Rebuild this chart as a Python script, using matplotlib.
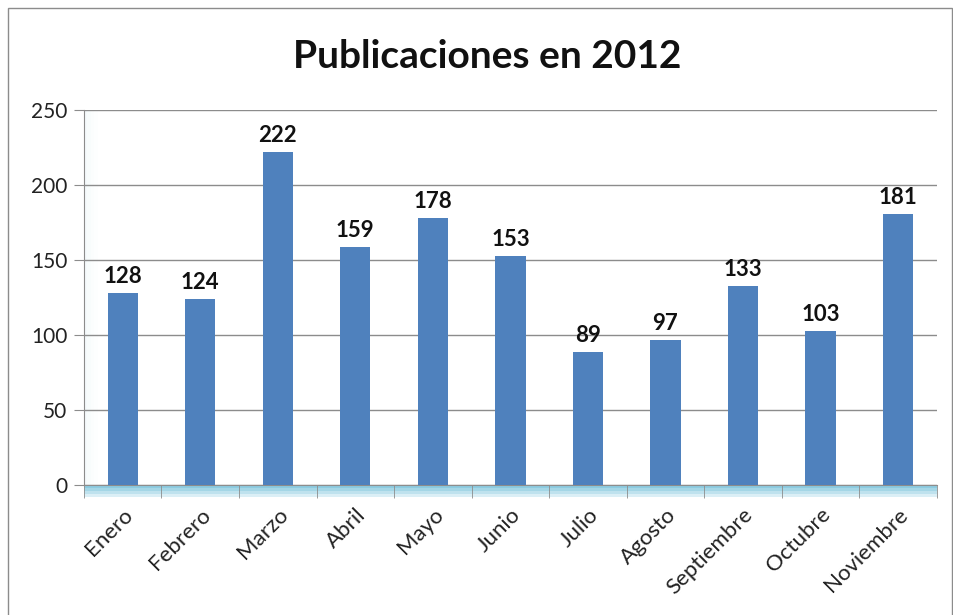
import numpy as np
import matplotlib.pyplot as plt
from matplotlib.patches import Rectangle
import matplotlib.transforms as mtransforms

plt.rcParams['font.family'] = ['Lato', 'DejaVu Sans']

meses = ['Enero', 'Febrero', 'Marzo', 'Abril', 'Mayo', 'Junio',
         'Julio', 'Agosto', 'Septiembre', 'Octubre', 'Noviembre']
publicaciones = [128, 124, 222, 159, 178, 153, 89, 97, 133, 103, 181]
y_ticks = [0, 50, 100, 150, 200, 250]

fig = plt.figure(figsize=(9.54, 6.15), dpi=100)
ax = fig.add_axes([0.088, 0.2114, 0.894, 0.6097])

x = np.arange(len(meses))
ax.bar(x, publicaciones, width=0.39, color='#4f81bd', zorder=3)

for xi, v in zip(x, publicaciones):
    ax.annotate(str(v), (xi, v), xytext=(0, 4), textcoords='offset points',
                ha='center', va='bottom', fontsize=16, fontweight='bold',
                color='#111111')

ax.set_xlim(-0.5, len(meses) - 0.5)
ax.set_ylim(0, 250)
ax.set_yticks(y_ticks)
ax.set_yticklabels([str(t) for t in y_ticks], fontsize=15, color='#222222')
ax.yaxis.grid(True, color='#8c8c8c', linewidth=1.0, zorder=0)
ax.tick_params(axis='y', length=7, color='#8c8c8c', pad=5)

# category labels at bar centres, tick marks at boundaries
ax.set_xticks(x)
ax.set_xticklabels(meses, rotation=45, ha='right', rotation_mode='anchor',
                   fontsize=16, color='#222222')
ax.tick_params(axis='x', length=0, pad=14)
ax.set_xticks(np.arange(len(meses) + 1) - 0.5, minor=True)
ax.tick_params(axis='x', which='minor', length=9, color='#8c8c8c',
               direction='out')

for s in ['top', 'right']:
    ax.spines[s].set_visible(False)
ax.spines['left'].set_color('#8c8c8c')
ax.spines['bottom'].set_color('#8c8c8c')

# light blue floor under the zero line
trans = mtransforms.blended_transform_factory(ax.transData, ax.transAxes)
floor_colors = ['#8ccbe0', '#a4d6e6', '#bfe2ee', '#dbeff6']
for i, c in enumerate(floor_colors):
    ax.add_patch(Rectangle((-0.5, -0.008 * (i + 1)), len(meses), 0.008,
                           transform=trans, color=c, clip_on=False,
                           zorder=1, linewidth=0))

# faint wall shading on the left side
for i, a in enumerate([0.10, 0.07, 0.04, 0.02]):
    ax.add_patch(Rectangle((0.004 * i, 0), 0.004, 1, transform=ax.transAxes,
                           color='#9fd6e2', alpha=a, zorder=1, linewidth=0))

fig.text(0.511, 0.908, 'Publicaciones en 2012', ha='center', va='center',
         fontsize=28, fontweight='bold', color='#111111')

# chart border
fig.add_artist(Rectangle((8 / 954, -0.01), 944 / 954, 1 - 8 / 615 + 0.01,
                         transform=fig.transFigure, fill=False,
                         edgecolor='#8c8c8c', linewidth=1.0))

fig.savefig('out.png', dpi=100)
